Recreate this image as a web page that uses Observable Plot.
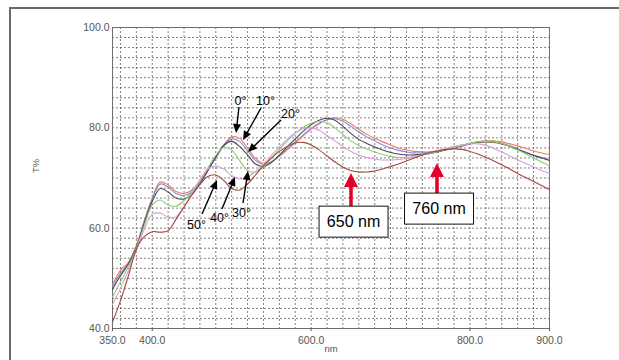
<!DOCTYPE html>
<html>
<head>
<meta charset="utf-8">
<script src="https://cdn.jsdelivr.net/npm/d3@7"></script>
<script src="https://cdn.jsdelivr.net/npm/@observablehq/plot@0.6"></script>
<style>
  html, body { margin: 0; padding: 0; background: #fff; }
  #wrap { position: relative; width: 619px; height: 360px; overflow: hidden; }
  #outer { position: absolute; left: 9px; top: 7px; width: 700px; height: 400px; border-left: 2px solid #6a6a6a; border-top: 2px solid #6a6a6a; pointer-events: none; }
</style>
</head>
<body>
<div id="wrap"><div id="outer"></div></div>
<script>
// ---- data ----
const wavelengths = [350,360,370,380,390,400,410,420,430,440,450,460,470,480,490,500,510,520,530,540,550,560,570,580,590,600,610,620,630,640,650,660,670,680,690,700,710,720,730,740,750,760,770,780,790,800,810,820,830,840,850,860,870,880,890,900];

const angles = ["0°", "10°", "20°", "30°", "40°", "50°"];

const t0deg = [48.8,51.6,53.2,56.5,61.5,66.0,69.2,68.6,67.3,66.9,67.6,69.3,71.6,74.2,76.6,78.2,77.9,76.0,73.9,72.9,73.2,74.3,75.6,77.0,78.4,79.7,80.8,81.6,82.0,81.7,80.8,79.7,78.7,77.9,77.2,76.6,76.0,75.6,75.3,75.2,75.2,75.4,75.7,76.1,76.5,76.9,77.2,77.4,77.4,77.2,76.8,76.4,75.9,75.4,75.0,74.7];
const t10deg = [48.3,51.0,53.0,56.3,61.3,65.8,68.8,68.2,66.9,66.5,67.2,69.0,71.4,74.0,76.3,77.8,77.3,75.4,73.5,72.7,73.2,74.4,75.8,77.2,78.6,79.9,80.9,81.6,81.8,81.3,80.3,79.2,78.2,77.4,76.6,76.0,75.5,75.2,75.0,75.0,75.1,75.3,75.7,76.1,76.5,76.9,77.2,77.3,77.2,76.9,76.4,75.8,75.2,74.6,74.1,73.7];
const t20deg = [47.8,50.5,52.8,56.2,61.0,65.3,67.9,67.2,66.0,65.8,66.8,68.8,71.5,74.2,76.5,77.3,76.3,74.6,72.8,72.3,73.1,74.6,76.2,77.8,79.3,80.6,81.5,81.9,81.5,80.3,78.9,77.7,76.9,76.2,75.6,75.1,74.8,74.6,74.6,74.7,74.9,75.2,75.6,76.0,76.4,76.8,77.1,77.2,77.1,76.8,76.3,75.7,75.1,74.5,74.0,73.5];
const t30deg = [46.3,49.3,52.3,56.0,60.5,64.6,65.6,64.6,64.4,65.5,67.3,69.6,72.0,74.5,76.1,75.6,73.5,71.5,71.2,72.2,73.9,75.7,77.4,78.9,80.1,80.9,81.3,81.0,80.0,78.7,77.4,76.5,75.8,75.2,74.7,74.3,74.1,74.1,74.3,74.6,74.9,75.3,75.7,76.1,76.5,76.9,77.2,77.3,77.2,76.9,76.3,75.6,74.8,74.0,73.2,72.4];
const t40deg = [44.8,48.0,51.5,55.6,59.8,62.8,63.0,62.2,62.3,64.2,67.0,69.6,71.8,72.4,71.8,70.5,69.8,70.2,71.3,72.8,74.5,76.2,77.7,79.0,79.8,80.0,79.5,78.5,77.4,76.3,75.3,74.6,74.1,73.8,73.6,73.6,73.7,73.9,74.3,74.7,75.1,75.5,75.9,76.3,76.6,76.8,76.8,76.5,75.9,75.2,74.4,73.6,72.9,72.2,71.5,70.9];
const t50deg = [41.3,45.5,50.5,55.8,58.3,59.3,59.2,59.5,61.8,64.2,66.6,68.7,70.3,70.6,69.5,67.9,67.6,68.8,70.6,72.4,74.0,75.3,76.3,77.0,77.1,76.6,75.6,74.4,73.2,72.2,71.5,71.2,71.2,71.4,71.8,72.3,72.8,73.4,74.0,74.6,75.1,75.4,75.7,75.8,75.7,75.3,74.8,74.1,73.4,72.6,71.8,70.9,70.1,69.3,68.5,67.7];

const seriesValues = [t0deg, t10deg, t20deg, t30deg, t40deg, t50deg];
const seriesColors = ["#f07a55", "#7f8be0", "#4a4a4a", "#8fcb72", "#d7a0d6", "#a4473c"];

const xTicks = [350, 400, 600, 800, 900];
const yTicks = [40, 60, 80, 100];
const xGrid = d3.range(360, 900, 20);
const yGrid = d3.range(42, 100, 2);

// angle annotations: label position and arrow (start -> tip) in nm / T%
const angleLabelNm = [511.1, 542.6, 574.0, 512.4, 484.7, 455.7];
const angleLabelT  = [85.25, 85.25, 82.66, 63.12, 61.93, 60.73];
const angleArrowNm1 = [509.8, 537.5, 562.7, 514.9, 488.4, 463.3];
const angleArrowT1  = [84.05, 83.85, 81.46, 64.92, 63.72, 62.72];
const angleArrowNm2 = [506.1, 514.9, 521.2, 521.2, 504.8, 482.2];
const angleArrowT2  = [78.87, 77.47, 75.08, 71.30, 70.10, 69.50];

// wavelength callouts
const calloutLabels = ["650 nm", "760 nm"];
const calloutNm = [650.8, 759.0];
const calloutTipT = [70.9, 72.9];
const calloutBoxNm = [654.0, 761.6];
const calloutBoxT = [61.2, 63.8];

// ---- build tables ----
const rows = [];
angles.forEach((a, i) => wavelengths.forEach((w, j) => rows.push({nm: w, T: seriesValues[i][j], angle: a})));
const angleNotes = angles.map((a, i) => ({label: a, lx: angleLabelNm[i], ly: angleLabelT[i], x1: angleArrowNm1[i], y1: angleArrowT1[i], x2: angleArrowNm2[i], y2: angleArrowT2[i]}));
const callouts = calloutLabels.map((l, i) => ({label: l, nm: calloutNm[i], tip: calloutTipT[i], bx: calloutBoxNm[i], by: calloutBoxT[i]}));

function head(g, x1, y1, x2, y2, L, W, color, sw) {
  const dx = x2 - x1, dy = y2 - y1, len = Math.hypot(dx, dy);
  const ux = dx / len, uy = dy / len, px = -uy, py = ux;
  const bx = x2 - ux * L, by = y2 - uy * L;
  g.append("line").attr("x1", x1).attr("y1", y1).attr("x2", bx + ux).attr("y2", by + uy)
    .attr("stroke", color).attr("stroke-width", sw);
  g.append("path").attr("d", `M${x2},${y2}L${bx + px * W},${by + py * W}L${bx - px * W},${by - py * W}Z`).attr("fill", color);
}

function annotations(index, scales) {
  const x = scales.x, y = scales.y;
  const g = d3.create("svg:g");
  for (const a of angleNotes) {
    head(g, x(a.x1), y(a.y1), x(a.x2), y(a.y2), 9, 4, "#000", 1.4);
  }
  for (const c of callouts) {
    const cx = x(c.bx), cy = y(c.by), w = 69, h = 31;
    const top = cy - h / 2;
    head(g, x(c.nm), top, x(c.nm), y(c.tip), 14, 7, "#e3002b", 3.5);
    g.append("rect").attr("x", cx - w / 2).attr("y", top).attr("width", w).attr("height", h)
      .attr("fill", "#fff").attr("stroke", "#111").attr("stroke-width", 1);
    g.append("text").attr("x", cx).attr("y", cy).attr("dy", "0.35em").attr("text-anchor", "middle")
      .attr("font-size", 16).attr("fill", "#000").text(c.label);
  }
  return g.node();
}

const chart = Plot.plot({
  width: 619,
  height: 360,
  marginLeft: 112,
  marginRight: 70,
  marginTop: 27,
  marginBottom: 32,
  style: {fontFamily: "'Liberation Sans', Arial, sans-serif", fontSize: "10.5px", color: "#555", background: "transparent"},
  x: {domain: [350, 900], label: null},
  y: {domain: [40, 100], label: null},
  color: {domain: angles, range: seriesColors},
  marks: [
    Plot.gridX(xGrid, {stroke: "#555", strokeOpacity: 0.75, strokeDasharray: "2,2"}),
    Plot.gridY(yGrid, {stroke: "#555", strokeOpacity: 0.75, strokeDasharray: "2,2"}),
    Plot.frame({stroke: "#6f6f6f"}),
    Plot.axisX(xTicks, {tickSize: 3, tickPadding: 5, tickFormat: d => d.toFixed(1), stroke: "#555", fill: "#555", label: null}),
    Plot.axisY(yTicks, {tickSize: 0, tickPadding: 3, tickFormat: d => d.toFixed(1), fill: "#555", label: null}),
    Plot.text(["nm"], {frameAnchor: "bottom", dy: 23, fontSize: 9.5, fill: "#555"}),
    Plot.text(["T%"], {frameAnchor: "left", dx: -77, dy: -5, rotate: -90, fontSize: 9.5, fill: "#555"}),
    Plot.line(rows, {x: "nm", y: "T", z: "angle", stroke: "angle", strokeWidth: 1.1, curve: "catmull-rom"}),
    Plot.text(angleNotes, {x: "lx", y: "ly", text: "label", fontSize: 12.5, fill: "#000"}),
    annotations
  ]
});
document.getElementById("wrap").appendChild(chart);
chart.style.position = "absolute";
chart.style.left = "0";
chart.style.top = "0";
</script>
</body>
</html>
